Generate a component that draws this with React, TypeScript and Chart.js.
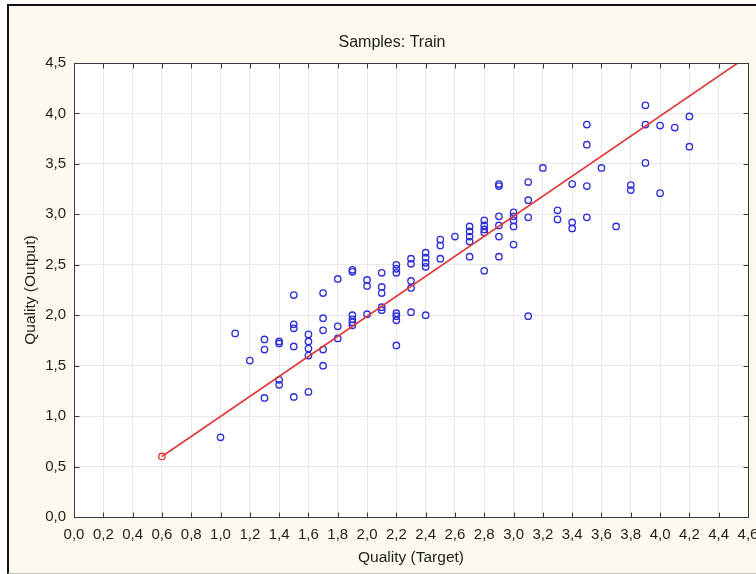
import React, { useEffect, useRef } from "react";
import { Chart, registerables } from "chart.js";

Chart.register(...registerables);

// Target (x) and Output (y) quality values of the training samples, paired by index
const targetQuality = [
  1.0,
  1.1,
  1.2,
  1.3, 1.3, 1.3,
  1.4, 1.4, 1.4, 1.4,
  1.5, 1.5, 1.5, 1.5, 1.5,
  1.6, 1.6, 1.6, 1.6, 1.6,
  1.7, 1.7, 1.7, 1.7, 1.7,
  1.8, 1.8, 1.8,
  1.9, 1.9, 1.9, 1.9, 1.9, 1.9,
  2.0, 2.0, 2.0,
  2.1, 2.1, 2.1, 2.1, 2.1,
  2.2, 2.2, 2.2, 2.2, 2.2, 2.2, 2.2,
  2.3, 2.3, 2.3, 2.3, 2.3,
  2.4, 2.4, 2.4, 2.4, 2.4,
  2.5, 2.5, 2.5,
  2.6,
  2.7, 2.7, 2.7, 2.7, 2.7,
  2.8, 2.8, 2.8, 2.8, 2.8,
  2.9, 2.9, 2.9, 2.9, 2.9, 2.9,
  3.0, 3.0, 3.0, 3.0, 3.0,
  3.1, 3.1, 3.1, 3.1,
  3.2,
  3.3, 3.3,
  3.4, 3.4, 3.4,
  3.5, 3.5, 3.5, 3.5,
  3.6,
  3.7,
  3.8, 3.8,
  3.9, 3.9, 3.9,
  4.0, 4.0,
  4.1,
  4.2, 4.2,
];

const outputQuality = [
  0.79,
  1.82,
  1.55,
  1.76, 1.66, 1.18,
  1.74, 1.72, 1.36, 1.31,
  2.2, 1.91, 1.87, 1.69, 1.19,
  1.81, 1.74, 1.67, 1.6, 1.24,
  2.22, 1.97, 1.85, 1.66, 1.5,
  2.36, 1.89, 1.77,
  2.45, 2.43, 2.0, 1.96, 1.93, 1.9,
  2.35, 2.29, 2.01,
  2.42, 2.28, 2.22, 2.08, 2.05,
  2.5, 2.46, 2.42, 2.02, 1.99, 1.95, 1.7,
  2.56, 2.51, 2.34, 2.27, 2.03,
  2.62, 2.57, 2.52, 2.48, 2.0,
  2.75, 2.69, 2.56,
  2.78,
  2.88, 2.83, 2.78, 2.73, 2.58,
  2.94, 2.89, 2.85, 2.82, 2.44,
  3.3, 3.28, 2.98, 2.89, 2.78, 2.58,
  3.02, 2.98, 2.94, 2.88, 2.7,
  3.32, 3.14, 2.97, 1.99,
  3.46,
  3.04, 2.95,
  3.3, 2.92, 2.86,
  3.89, 3.69, 3.28, 2.97,
  3.46,
  2.88,
  3.29, 3.24,
  4.08, 3.89, 3.51,
  3.88, 3.21,
  3.86,
  3.97, 3.67,
];

// Fit line end points
const fitLineTarget = [0.6, 4.53];
const fitLineOutput = [0.6, 4.5];

const chartTitle = "Samples: Train";
const xAxisTitle = "Quality (Target)";
const yAxisTitle = "Quality (Output)";

const xMin = 0;
const xMax = 4.6;
const xStep = 0.2;
const yMin = 0;
const yMax = 4.5;
const yStep = 0.5;

const FONT = "'Liberation Sans', Arial, sans-serif";
const TEXT = "#1e1e1e";

const fmt = (v: number) => Number(v).toFixed(1).replace(".", ",");

const plotFramePlugin = {
  id: "plotFrame",
  beforeDraw(chart: any) {
    const { ctx, chartArea: a } = chart;
    ctx.save();
    ctx.fillStyle = "#ffffff";
    ctx.fillRect(a.left, a.top, a.right - a.left, a.bottom - a.top);
    // chart title, centred on the full (uncropped) frame width
    ctx.fillStyle = TEXT;
    ctx.font = `16px ${FONT}`;
    ctx.textAlign = "center";
    ctx.textBaseline = "middle";
    ctx.fillText(chartTitle, 392, 43);
    ctx.restore();
  },
  afterDraw(chart: any) {
    const { ctx, chartArea: a, scales } = chart;
    ctx.save();
    ctx.strokeStyle = "#3a3a3a";
    ctx.lineWidth = 1;
    const l = Math.round(a.left) + 0.5;
    const t = Math.round(a.top) + 0.5;
    const r = Math.round(a.right) + 0.5;
    const b = Math.round(a.bottom) + 0.5;
    ctx.strokeRect(l, t, r - l, b - t);
    const len = 5;
    ctx.beginPath();
    scales.x.ticks.forEach((tk: any) => {
      const px = Math.round(scales.x.getPixelForValue(tk.value)) + 0.5;
      ctx.moveTo(px, t);
      ctx.lineTo(px, t + len);
      ctx.moveTo(px, b);
      ctx.lineTo(px, b - len);
    });
    scales.y.ticks.forEach((tk: any) => {
      const py = Math.round(scales.y.getPixelForValue(tk.value)) + 0.5;
      ctx.moveTo(l, py);
      ctx.lineTo(l + len, py);
      ctx.moveTo(r, py);
      ctx.lineTo(r - len, py);
    });
    ctx.stroke();
    ctx.restore();
  },
};

export default function App() {
  const canvasRef = useRef<HTMLCanvasElement | null>(null);

  useEffect(() => {
    if (!canvasRef.current) return;
    const samples = targetQuality.map((x, i) => ({ x, y: outputQuality[i] }));
    const fit = fitLineTarget.map((x, i) => ({ x, y: fitLineOutput[i] }));

    const chart = new Chart(canvasRef.current, {
      type: "scatter",
      data: {
        datasets: [
          {
            type: "line",
            label: "Fit",
            data: fit,
            borderColor: "#e03a3a",
            borderWidth: 1.6,
            pointRadius: [3.2, 0],
            pointBorderColor: "#e03a3a",
            pointBackgroundColor: "rgba(0,0,0,0)",
            pointBorderWidth: 1.3,
            fill: false,
            order: 1,
          } as any,
          {
            label: "Train",
            data: samples,
            pointStyle: "circle",
            pointRadius: 3.2,
            pointBorderColor: "#2f2fd8",
            pointBackgroundColor: "rgba(0,0,0,0)",
            pointBorderWidth: 1.35,
            showLine: false,
            order: 2,
          },
        ],
      },
      options: {
        animation: false,
        responsive: false,
        devicePixelRatio: 1,
        layout: { padding: { top: 63, right: 8, bottom: 0, left: 0 } },
        plugins: {
          legend: { display: false },
          tooltip: { enabled: false },
          title: { display: false },
        },
        scales: {
          x: {
            type: "linear",
            min: xMin,
            max: xMax,
            border: { display: false },
            grid: { color: "#e8e8e8", lineWidth: 1, drawTicks: false },
            ticks: {
              stepSize: xStep,
              autoSkip: false,
              maxRotation: 0,
              padding: 9,
              color: TEXT,
              font: { family: FONT, size: 15 },
              callback: (v: any) => fmt(v),
            },
            title: {
              display: true,
              text: xAxisTitle,
              color: TEXT,
              font: { family: FONT, size: 15.5 },
              padding: { top: 0, bottom: 7 },
            },
            afterFit: (s: any) => {
              s.height = 57;
              s.paddingLeft = 0;
              s.paddingRight = 0;
            },
          },
          y: {
            type: "linear",
            min: yMin,
            max: yMax,
            border: { display: false },
            grid: { color: "#e8e8e8", lineWidth: 1, drawTicks: false },
            ticks: {
              stepSize: yStep,
              padding: 8,
              color: TEXT,
              font: { family: FONT, size: 15 },
              callback: (v: any) => fmt(v),
            },
            title: {
              display: true,
              text: yAxisTitle,
              color: TEXT,
              font: { family: FONT, size: 15.5 },
              padding: { top: 21, bottom: 0 },
            },
            afterFit: (s: any) => {
              s.width = 74;
              s.paddingTop = 0;
              s.paddingBottom = 0;
            },
          },
        },
      },
      plugins: [plotFramePlugin],
    });
    return () => chart.destroy();
  }, []);

  return (
    <div
      style={{
        position: "fixed",
        left: 0,
        top: 0,
        width: 756,
        height: 574,
        background: "#ffffff",
        overflow: "hidden",
      }}
    >
      <div
        style={{
          position: "absolute",
          left: 7,
          top: 4,
          width: 760,
          height: 567,
          background: "#fdf9ee",
          borderLeft: "2px solid #111",
          borderTop: "2px solid #111",
          borderBottom: "1px solid #c4c4c4",
        }}
      />
      <canvas
        ref={canvasRef}
        width={756}
        height={574}
        style={{ position: "absolute", left: 0, top: 0, width: 756, height: 574 }}
      />
    </div>
  );
}
